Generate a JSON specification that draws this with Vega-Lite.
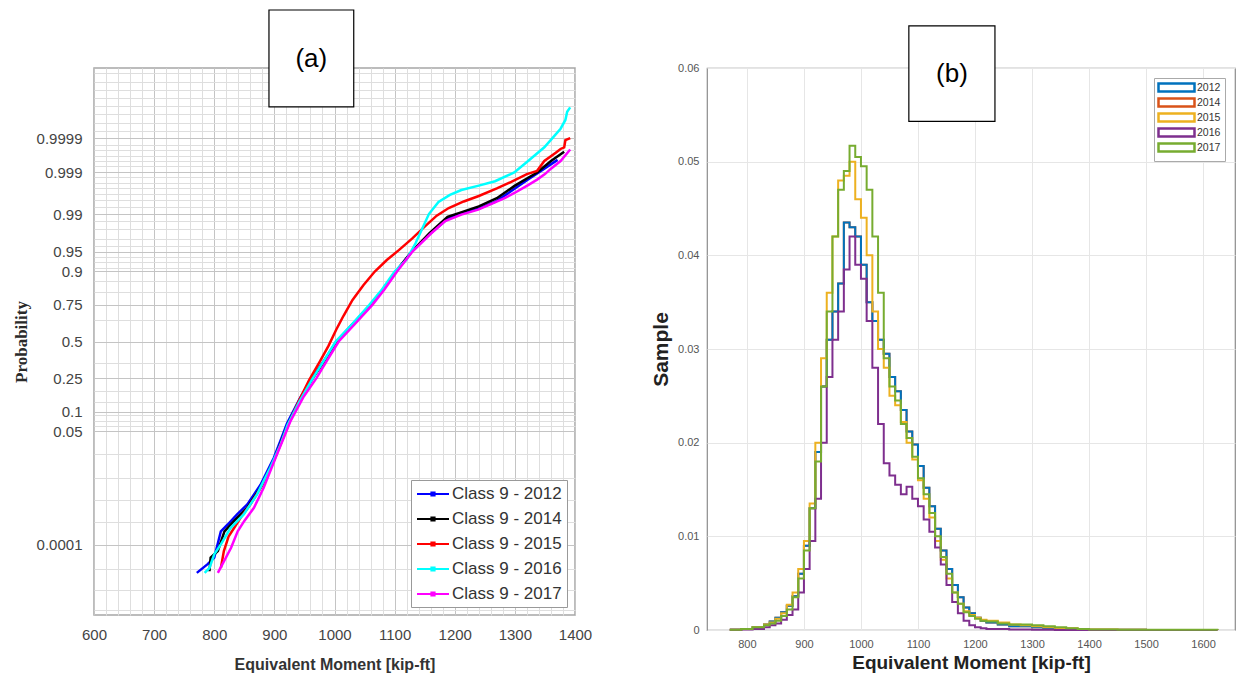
{
  "$schema": "https://vega.github.io/schema/vega-lite/v6.json",
  "background": "white",
  "padding": {"left": 11, "top": 8, "right": 5, "bottom": 0},
  "autosize": {"type": "pad"},
  "bounds": "flush",
  "spacing": 132,
  "config": {"font": "Liberation Sans"},
  "resolve": {"scale": {"color": "independent", "x": "independent", "y": "independent"}, "legend": {"color": "independent"}},
  "hconcat": [
    {
      "width": 481,
      "height": 547,
      "view": {"stroke": "#a6a6a6", "strokeWidth": 1.5},
      "data": {"values": [
        {"s":"Class 9 - 2012","m":771,"z":-4.23},{"s":"Class 9 - 2012","m":789,"z":-4.07},{"s":"Class 9 - 2012","m":800,"z":-3.95},{"s":"Class 9 - 2012","m":811,"z":-3.47},{"s":"Class 9 - 2012","m":822,"z":-3.35},{"s":"Class 9 - 2012","m":838,"z":-3.16},{"s":"Class 9 - 2012","m":855,"z":-2.98},{"s":"Class 9 - 2012","m":877,"z":-2.62},{"s":"Class 9 - 2012","m":899,"z":-2.13},{"s":"Class 9 - 2012","m":910,"z":-1.82},{"s":"Class 9 - 2012","m":921,"z":-1.5},{"s":"Class 9 - 2012","m":942,"z":-1.05},{"s":"Class 9 - 2012","m":962,"z":-0.67},{"s":"Class 9 - 2012","m":982,"z":-0.36},{"s":"Class 9 - 2012","m":1003,"z":0},{"s":"Class 9 - 2012","m":1030,"z":0.32},{"s":"Class 9 - 2012","m":1060,"z":0.67},{"s":"Class 9 - 2012","m":1080,"z":0.95},{"s":"Class 9 - 2012","m":1102,"z":1.28},{"s":"Class 9 - 2012","m":1129,"z":1.65},{"s":"Class 9 - 2012","m":1160,"z":1.98},{"s":"Class 9 - 2012","m":1190,"z":2.26},{"s":"Class 9 - 2012","m":1215,"z":2.35},{"s":"Class 9 - 2012","m":1240,"z":2.43},{"s":"Class 9 - 2012","m":1267,"z":2.55},{"s":"Class 9 - 2012","m":1294,"z":2.75},{"s":"Class 9 - 2012","m":1320,"z":2.95},{"s":"Class 9 - 2012","m":1349,"z":3.16},{"s":"Class 9 - 2012","m":1371,"z":3.32},
        {"s":"Class 9 - 2014","m":792,"z":-4.2},{"s":"Class 9 - 2014","m":794,"z":-3.95},{"s":"Class 9 - 2014","m":806,"z":-3.83},{"s":"Class 9 - 2014","m":817,"z":-3.47},{"s":"Class 9 - 2014","m":833,"z":-3.28},{"s":"Class 9 - 2014","m":855,"z":-3.04},{"s":"Class 9 - 2014","m":880,"z":-2.62},{"s":"Class 9 - 2014","m":900,"z":-2.15},{"s":"Class 9 - 2014","m":912,"z":-1.82},{"s":"Class 9 - 2014","m":923,"z":-1.5},{"s":"Class 9 - 2014","m":944,"z":-1.05},{"s":"Class 9 - 2014","m":964,"z":-0.67},{"s":"Class 9 - 2014","m":983,"z":-0.36},{"s":"Class 9 - 2014","m":1004,"z":0},{"s":"Class 9 - 2014","m":1031,"z":0.32},{"s":"Class 9 - 2014","m":1061,"z":0.67},{"s":"Class 9 - 2014","m":1081,"z":0.95},{"s":"Class 9 - 2014","m":1102,"z":1.28},{"s":"Class 9 - 2014","m":1129,"z":1.65},{"s":"Class 9 - 2014","m":1158,"z":1.98},{"s":"Class 9 - 2014","m":1188,"z":2.28},{"s":"Class 9 - 2014","m":1213,"z":2.37},{"s":"Class 9 - 2014","m":1240,"z":2.47},{"s":"Class 9 - 2014","m":1270,"z":2.62},{"s":"Class 9 - 2014","m":1300,"z":2.85},{"s":"Class 9 - 2014","m":1320,"z":2.98},{"s":"Class 9 - 2014","m":1337,"z":3.09},{"s":"Class 9 - 2014","m":1360,"z":3.3},{"s":"Class 9 - 2014","m":1382,"z":3.47},
        {"s":"Class 9 - 2015","m":811,"z":-4.14},{"s":"Class 9 - 2015","m":816,"z":-3.83},{"s":"Class 9 - 2015","m":824,"z":-3.56},{"s":"Class 9 - 2015","m":833,"z":-3.41},{"s":"Class 9 - 2015","m":844,"z":-3.22},{"s":"Class 9 - 2015","m":860,"z":-2.98},{"s":"Class 9 - 2015","m":877,"z":-2.68},{"s":"Class 9 - 2015","m":899,"z":-2.19},{"s":"Class 9 - 2015","m":910,"z":-1.89},{"s":"Class 9 - 2015","m":924,"z":-1.5},{"s":"Class 9 - 2015","m":940,"z":-1.1},{"s":"Class 9 - 2015","m":958,"z":-0.7},{"s":"Class 9 - 2015","m":976,"z":-0.36},{"s":"Class 9 - 2015","m":990,"z":-0.08},{"s":"Class 9 - 2015","m":1003,"z":0.22},{"s":"Class 9 - 2015","m":1015,"z":0.47},{"s":"Class 9 - 2015","m":1030,"z":0.76},{"s":"Class 9 - 2015","m":1048,"z":1.03},{"s":"Class 9 - 2015","m":1067,"z":1.28},{"s":"Class 9 - 2015","m":1087,"z":1.49},{"s":"Class 9 - 2015","m":1107,"z":1.67},{"s":"Class 9 - 2015","m":1129,"z":1.88},{"s":"Class 9 - 2015","m":1150,"z":2.1},{"s":"Class 9 - 2015","m":1170,"z":2.3},{"s":"Class 9 - 2015","m":1190,"z":2.44},{"s":"Class 9 - 2015","m":1215,"z":2.56},{"s":"Class 9 - 2015","m":1240,"z":2.66},{"s":"Class 9 - 2015","m":1270,"z":2.8},{"s":"Class 9 - 2015","m":1294,"z":2.92},{"s":"Class 9 - 2015","m":1320,"z":3.06},{"s":"Class 9 - 2015","m":1337,"z":3.12},{"s":"Class 9 - 2015","m":1349,"z":3.3},{"s":"Class 9 - 2015","m":1368,"z":3.45},{"s":"Class 9 - 2015","m":1376,"z":3.52},{"s":"Class 9 - 2015","m":1382,"z":3.55},{"s":"Class 9 - 2015","m":1384,"z":3.68},{"s":"Class 9 - 2015","m":1392,"z":3.72},
        {"s":"Class 9 - 2016","m":784,"z":-4.23},{"s":"Class 9 - 2016","m":792,"z":-4.14},{"s":"Class 9 - 2016","m":800,"z":-3.89},{"s":"Class 9 - 2016","m":811,"z":-3.71},{"s":"Class 9 - 2016","m":827,"z":-3.41},{"s":"Class 9 - 2016","m":849,"z":-3.16},{"s":"Class 9 - 2016","m":871,"z":-2.8},{"s":"Class 9 - 2016","m":893,"z":-2.31},{"s":"Class 9 - 2016","m":910,"z":-1.89},{"s":"Class 9 - 2016","m":922,"z":-1.52},{"s":"Class 9 - 2016","m":943,"z":-1.07},{"s":"Class 9 - 2016","m":964,"z":-0.67},{"s":"Class 9 - 2016","m":982,"z":-0.36},{"s":"Class 9 - 2016","m":1002,"z":0},{"s":"Class 9 - 2016","m":1028,"z":0.3},{"s":"Class 9 - 2016","m":1058,"z":0.67},{"s":"Class 9 - 2016","m":1079,"z":0.95},{"s":"Class 9 - 2016","m":1100,"z":1.28},{"s":"Class 9 - 2016","m":1120,"z":1.5},{"s":"Class 9 - 2016","m":1135,"z":1.8},{"s":"Class 9 - 2016","m":1157,"z":2.33},{"s":"Class 9 - 2016","m":1173,"z":2.55},{"s":"Class 9 - 2016","m":1192,"z":2.68},{"s":"Class 9 - 2016","m":1211,"z":2.77},{"s":"Class 9 - 2016","m":1240,"z":2.85},{"s":"Class 9 - 2016","m":1267,"z":2.93},{"s":"Class 9 - 2016","m":1299,"z":3.09},{"s":"Class 9 - 2016","m":1322,"z":3.3},{"s":"Class 9 - 2016","m":1349,"z":3.55},{"s":"Class 9 - 2016","m":1365,"z":3.75},{"s":"Class 9 - 2016","m":1376,"z":3.89},{"s":"Class 9 - 2016","m":1384,"z":4.05},{"s":"Class 9 - 2016","m":1387,"z":4.2},{"s":"Class 9 - 2016","m":1392,"z":4.28},
        {"s":"Class 9 - 2017","m":806,"z":-4.23},{"s":"Class 9 - 2017","m":828,"z":-3.77},{"s":"Class 9 - 2017","m":839,"z":-3.47},{"s":"Class 9 - 2017","m":850,"z":-3.28},{"s":"Class 9 - 2017","m":866,"z":-3.04},{"s":"Class 9 - 2017","m":882,"z":-2.68},{"s":"Class 9 - 2017","m":904,"z":-2.07},{"s":"Class 9 - 2017","m":916,"z":-1.75},{"s":"Class 9 - 2017","m":927,"z":-1.45},{"s":"Class 9 - 2017","m":948,"z":-1.02},{"s":"Class 9 - 2017","m":970,"z":-0.67},{"s":"Class 9 - 2017","m":987,"z":-0.36},{"s":"Class 9 - 2017","m":1007,"z":0},{"s":"Class 9 - 2017","m":1034,"z":0.32},{"s":"Class 9 - 2017","m":1063,"z":0.67},{"s":"Class 9 - 2017","m":1083,"z":0.95},{"s":"Class 9 - 2017","m":1104,"z":1.28},{"s":"Class 9 - 2017","m":1130,"z":1.65},{"s":"Class 9 - 2017","m":1160,"z":1.97},{"s":"Class 9 - 2017","m":1184,"z":2.2},{"s":"Class 9 - 2017","m":1211,"z":2.32},{"s":"Class 9 - 2017","m":1239,"z":2.41},{"s":"Class 9 - 2017","m":1262,"z":2.52},{"s":"Class 9 - 2017","m":1283,"z":2.62},{"s":"Class 9 - 2017","m":1300,"z":2.72},{"s":"Class 9 - 2017","m":1322,"z":2.86},{"s":"Class 9 - 2017","m":1337,"z":2.96},{"s":"Class 9 - 2017","m":1350,"z":3.06},{"s":"Class 9 - 2017","m":1360,"z":3.16},{"s":"Class 9 - 2017","m":1376,"z":3.3},{"s":"Class 9 - 2017","m":1392,"z":3.51}
      ]},
      "encoding": {
        "x": {"field": "m", "type": "quantitative",
          "scale": {"domain": [600, 1400], "nice": false, "zero": false},
          "axis": {"values": [600,620,640,660,680,700,720,740,760,780,800,820,840,860,880,900,920,940,960,980,1000,1020,1040,1060,1080,1100,1120,1140,1160,1180,1200,1220,1240,1260,1280,1300,1320,1340,1360,1380,1400],
            "format": "d",
            "labelExpr": "datum.value % 100 === 0 ? datum.label : ''",
            "labelFlush": false, "labelOverlap": false, "ticks": false, "domain": false,
            "gridColor": {"condition": {"test": "datum.value % 100 === 0", "value": "#c4c4c4"}, "value": "#dedede"},
            "labelFontSize": 15, "labelColor": "#444", "labelPadding": 12,
            "title": "Equivalent Moment [kip-ft]", "titleFontSize": 16, "titleFontWeight": "bold", "titleColor": "#333", "titlePadding": 14}},
        "y": {"field": "z", "type": "quantitative",
          "scale": {"domain": [-5, 5], "nice": false, "zero": false},
          "axis": {"values": [-4.9,-4.55,-4.15,-3.719,-3.3,-2.9,-2.5,-2.05,-1.6449,-1.55,-1.45,-1.35,-1.2816,-1.1,-0.9,-0.6745,-0.4,0,0.4,0.6745,0.9,1.1,1.2816,1.35,1.45,1.55,1.6449,1.75,1.88,2.05,2.2,2.3263,2.45,2.58,2.7,2.8,2.9,3.0,3.0902,3.2,3.3,3.4,3.5,3.6,3.719,3.85,4.0,4.15,4.3,4.45,4.6,4.75,4.9],
            "labelExpr": "datum.value == -3.719 ? '0.0001' : datum.value == -1.6449 ? '0.05' : datum.value == -1.2816 ? '0.1' : datum.value == -0.6745 ? '0.25' : datum.value == 0 ? '0.5' : datum.value == 0.6745 ? '0.75' : datum.value == 1.2816 ? '0.9' : datum.value == 1.6449 ? '0.95' : datum.value == 2.3263 ? '0.99' : datum.value == 3.0902 ? '0.999' : datum.value == 3.719 ? '0.9999' : ''",
            "gridColor": {"condition": {"test": "datum.value == -3.719 || datum.value == -1.6449 || datum.value == -1.2816 || datum.value == -0.6745 || datum.value == 0 || datum.value == 0.6745 || datum.value == 1.2816 || datum.value == 1.6449 || datum.value == 2.3263 || datum.value == 3.0902 || datum.value == 3.719", "value": "#c4c4c4"}, "value": "#dedede"},
            "labelOverlap": false, "labelBound": false, "ticks": false, "domain": false,
            "labelFontSize": 15, "labelColor": "#444", "labelPadding": 12,
            "title": "Probability", "titleFont": "Liberation Serif", "titleFontSize": 17, "titleFontWeight": "bold", "titleColor": "#2a2a2a", "titlePadding": 6}}
      },
      "layer": [
        {
          "mark": {"type": "line", "strokeWidth": 2.5},
          "encoding": {
            "color": {"field": "s", "type": "nominal",
              "scale": {"domain": ["Class 9 - 2012","Class 9 - 2014","Class 9 - 2015","Class 9 - 2016","Class 9 - 2017"], "range": ["#0000ff","#000000","#ff0000","#00ffff","#ff00ff"]},
              "legend": {"orient": "bottom-right", "offset": 8, "title": null,
                "symbolType": "M-2,0H2M-0.2,-0.2H0.2V0.2H-0.2Z", "symbolSize": 256, "symbolStrokeWidth": 2, "symbolOffset": 8,
                "labelFontSize": 17, "labelColor": "#333", "labelOffset": 10,
                "strokeColor": "#999", "fillColor": "white", "padding": 5, "rowPadding": 8}}
          }
        },
        {
          "data": {"values": [{"m": 891, "m2": 1032, "z": 4.29, "z2": 6.06}]},
          "mark": {"type": "rect", "fill": "white", "stroke": "black", "strokeWidth": 1.2},
          "encoding": {
            "x2": {"field": "m2"},
            "y2": {"field": "z2"}
          }
        },
        {
          "data": {"values": [{"m": 961.5, "z": 5.17, "t": "(a)"}]},
          "mark": {"type": "text", "fontSize": 26, "font": "Liberation Sans", "color": "black", "baseline": "middle"},
          "encoding": {
            "text": {"field": "t"}
          }
        }
      ]
    },
    {
      "width": 528,
      "height": 562,
      "view": {"stroke": "#8c8c8c", "strokeWidth": 1.2},
      "data": {"values": [
        {"s":"2014","x":770,"y":0.00003},{"s":"2014","x":790,"y":0.0001},{"s":"2014","x":810,"y":0.0003},{"s":"2014","x":830,"y":0.0006},{"s":"2014","x":840,"y":0.0009},{"s":"2014","x":850,"y":0.0013},{"s":"2014","x":860,"y":0.0019},{"s":"2014","x":870,"y":0.0026},{"s":"2014","x":880,"y":0.0036},{"s":"2014","x":890,"y":0.006},{"s":"2014","x":900,"y":0.009},{"s":"2014","x":910,"y":0.013},{"s":"2014","x":920,"y":0.019},{"s":"2014","x":930,"y":0.026},{"s":"2014","x":940,"y":0.031},{"s":"2014","x":950,"y":0.034},{"s":"2014","x":960,"y":0.037},{"s":"2014","x":970,"y":0.0435},{"s":"2014","x":980,"y":0.043},{"s":"2014","x":990,"y":0.042},{"s":"2014","x":1000,"y":0.039},{"s":"2014","x":1010,"y":0.035},{"s":"2014","x":1020,"y":0.033},{"s":"2014","x":1030,"y":0.031},{"s":"2014","x":1040,"y":0.0295},{"s":"2014","x":1050,"y":0.027},{"s":"2014","x":1060,"y":0.0255},{"s":"2014","x":1070,"y":0.0235},{"s":"2014","x":1080,"y":0.0212},{"s":"2014","x":1090,"y":0.0198},{"s":"2014","x":1100,"y":0.0175},{"s":"2014","x":1110,"y":0.0152},{"s":"2014","x":1120,"y":0.0132},{"s":"2014","x":1130,"y":0.0108},{"s":"2014","x":1140,"y":0.0085},{"s":"2014","x":1150,"y":0.0065},{"s":"2014","x":1160,"y":0.0048},{"s":"2014","x":1170,"y":0.0035},{"s":"2014","x":1180,"y":0.0024},{"s":"2014","x":1190,"y":0.0018},{"s":"2014","x":1200,"y":0.0013},{"s":"2014","x":1210,"y":0.001},{"s":"2014","x":1220,"y":0.0008},{"s":"2014","x":1240,"y":0.0006},{"s":"2014","x":1260,"y":0.0004},{"s":"2014","x":1280,"y":0.0004},{"s":"2014","x":1300,"y":0.0003},{"s":"2014","x":1320,"y":0.0002},{"s":"2014","x":1340,"y":0.0001},{"s":"2014","x":1360,"y":0.0001},{"s":"2014","x":1380,"y":0.00005},{"s":"2014","x":1400,"y":0.00003},{"s":"2014","x":1450,"y":0.00002},{"s":"2014","x":1500,"y":0.00001},{"s":"2014","x":1625,"y":0},
        {"s":"2012","x":770,"y":0.00003},{"s":"2012","x":790,"y":0.0001},{"s":"2012","x":810,"y":0.0003},{"s":"2012","x":830,"y":0.0006},{"s":"2012","x":840,"y":0.0009},{"s":"2012","x":850,"y":0.0013},{"s":"2012","x":860,"y":0.0019},{"s":"2012","x":870,"y":0.0026},{"s":"2012","x":880,"y":0.0036},{"s":"2012","x":890,"y":0.006},{"s":"2012","x":900,"y":0.009},{"s":"2012","x":910,"y":0.013},{"s":"2012","x":920,"y":0.019},{"s":"2012","x":930,"y":0.026},{"s":"2012","x":940,"y":0.031},{"s":"2012","x":950,"y":0.034},{"s":"2012","x":960,"y":0.037},{"s":"2012","x":970,"y":0.0435},{"s":"2012","x":980,"y":0.043},{"s":"2012","x":990,"y":0.042},{"s":"2012","x":1000,"y":0.039},{"s":"2012","x":1010,"y":0.035},{"s":"2012","x":1020,"y":0.033},{"s":"2012","x":1030,"y":0.031},{"s":"2012","x":1040,"y":0.0295},{"s":"2012","x":1050,"y":0.027},{"s":"2012","x":1060,"y":0.0255},{"s":"2012","x":1070,"y":0.0235},{"s":"2012","x":1080,"y":0.0212},{"s":"2012","x":1090,"y":0.0198},{"s":"2012","x":1100,"y":0.0175},{"s":"2012","x":1110,"y":0.0152},{"s":"2012","x":1120,"y":0.0132},{"s":"2012","x":1130,"y":0.0108},{"s":"2012","x":1140,"y":0.0085},{"s":"2012","x":1150,"y":0.0065},{"s":"2012","x":1160,"y":0.0048},{"s":"2012","x":1170,"y":0.0035},{"s":"2012","x":1180,"y":0.0024},{"s":"2012","x":1190,"y":0.0018},{"s":"2012","x":1200,"y":0.0013},{"s":"2012","x":1210,"y":0.001},{"s":"2012","x":1220,"y":0.0008},{"s":"2012","x":1240,"y":0.0006},{"s":"2012","x":1260,"y":0.0004},{"s":"2012","x":1280,"y":0.0004},{"s":"2012","x":1300,"y":0.0003},{"s":"2012","x":1320,"y":0.0002},{"s":"2012","x":1340,"y":0.0001},{"s":"2012","x":1360,"y":0.0001},{"s":"2012","x":1380,"y":0.00005},{"s":"2012","x":1400,"y":0.00003},{"s":"2012","x":1450,"y":0.00002},{"s":"2012","x":1500,"y":0.00001},{"s":"2012","x":1625,"y":0},
        {"s":"2015","x":770,"y":0.00003},{"s":"2015","x":790,"y":0.0001},{"s":"2015","x":810,"y":0.0003},{"s":"2015","x":830,"y":0.0006},{"s":"2015","x":840,"y":0.0008},{"s":"2015","x":850,"y":0.0012},{"s":"2015","x":860,"y":0.0018},{"s":"2015","x":870,"y":0.0027},{"s":"2015","x":880,"y":0.004},{"s":"2015","x":890,"y":0.0065},{"s":"2015","x":900,"y":0.0095},{"s":"2015","x":910,"y":0.0135},{"s":"2015","x":920,"y":0.02},{"s":"2015","x":930,"y":0.029},{"s":"2015","x":940,"y":0.036},{"s":"2015","x":950,"y":0.042},{"s":"2015","x":960,"y":0.048},{"s":"2015","x":970,"y":0.0485},{"s":"2015","x":980,"y":0.05},{"s":"2015","x":990,"y":0.046},{"s":"2015","x":1000,"y":0.044},{"s":"2015","x":1010,"y":0.04},{"s":"2015","x":1020,"y":0.034},{"s":"2015","x":1030,"y":0.03},{"s":"2015","x":1040,"y":0.028},{"s":"2015","x":1050,"y":0.025},{"s":"2015","x":1060,"y":0.024},{"s":"2015","x":1070,"y":0.0222},{"s":"2015","x":1080,"y":0.02},{"s":"2015","x":1090,"y":0.0182},{"s":"2015","x":1100,"y":0.016},{"s":"2015","x":1110,"y":0.014},{"s":"2015","x":1120,"y":0.012},{"s":"2015","x":1130,"y":0.0095},{"s":"2015","x":1140,"y":0.0075},{"s":"2015","x":1150,"y":0.0055},{"s":"2015","x":1160,"y":0.004},{"s":"2015","x":1170,"y":0.0028},{"s":"2015","x":1180,"y":0.002},{"s":"2015","x":1190,"y":0.0016},{"s":"2015","x":1200,"y":0.0013},{"s":"2015","x":1210,"y":0.0011},{"s":"2015","x":1220,"y":0.001},{"s":"2015","x":1240,"y":0.0008},{"s":"2015","x":1260,"y":0.0006},{"s":"2015","x":1280,"y":0.0005},{"s":"2015","x":1300,"y":0.0004},{"s":"2015","x":1320,"y":0.0003},{"s":"2015","x":1340,"y":0.0002},{"s":"2015","x":1360,"y":0.0002},{"s":"2015","x":1380,"y":0.0001},{"s":"2015","x":1400,"y":0.00005},{"s":"2015","x":1450,"y":0.00002},{"s":"2015","x":1500,"y":0.00001},{"s":"2015","x":1625,"y":0},
        {"s":"2016","x":770,"y":0.00002},{"s":"2016","x":790,"y":0.00005},{"s":"2016","x":810,"y":0.0001},{"s":"2016","x":830,"y":0.0003},{"s":"2016","x":840,"y":0.0005},{"s":"2016","x":850,"y":0.0007},{"s":"2016","x":860,"y":0.0011},{"s":"2016","x":870,"y":0.0016},{"s":"2016","x":880,"y":0.0022},{"s":"2016","x":890,"y":0.004},{"s":"2016","x":900,"y":0.0065},{"s":"2016","x":910,"y":0.0095},{"s":"2016","x":920,"y":0.014},{"s":"2016","x":930,"y":0.02},{"s":"2016","x":940,"y":0.027},{"s":"2016","x":950,"y":0.031},{"s":"2016","x":960,"y":0.034},{"s":"2016","x":970,"y":0.0385},{"s":"2016","x":980,"y":0.042},{"s":"2016","x":990,"y":0.039},{"s":"2016","x":1000,"y":0.0375},{"s":"2016","x":1010,"y":0.033},{"s":"2016","x":1020,"y":0.028},{"s":"2016","x":1030,"y":0.022},{"s":"2016","x":1040,"y":0.0178},{"s":"2016","x":1050,"y":0.0165},{"s":"2016","x":1060,"y":0.0155},{"s":"2016","x":1070,"y":0.0145},{"s":"2016","x":1080,"y":0.0153},{"s":"2016","x":1090,"y":0.014},{"s":"2016","x":1100,"y":0.0132},{"s":"2016","x":1110,"y":0.0118},{"s":"2016","x":1120,"y":0.0105},{"s":"2016","x":1130,"y":0.0088},{"s":"2016","x":1140,"y":0.007},{"s":"2016","x":1150,"y":0.0048},{"s":"2016","x":1160,"y":0.003},{"s":"2016","x":1170,"y":0.0018},{"s":"2016","x":1180,"y":0.001},{"s":"2016","x":1190,"y":0.0005},{"s":"2016","x":1200,"y":0.0003},{"s":"2016","x":1210,"y":0.0002},{"s":"2016","x":1220,"y":0.0001},{"s":"2016","x":1240,"y":0.0001},{"s":"2016","x":1260,"y":0.00005},{"s":"2016","x":1280,"y":0.00005},{"s":"2016","x":1300,"y":0.00003},{"s":"2016","x":1320,"y":0.00002},{"s":"2016","x":1340,"y":0.00001},{"s":"2016","x":1360,"y":0},{"s":"2016","x":1380,"y":0},{"s":"2016","x":1400,"y":0},{"s":"2016","x":1450,"y":0},{"s":"2016","x":1500,"y":0},{"s":"2016","x":1625,"y":0},
        {"s":"2017","x":770,"y":0.00002},{"s":"2017","x":790,"y":0.0001},{"s":"2017","x":810,"y":0.0003},{"s":"2017","x":830,"y":0.0005},{"s":"2017","x":840,"y":0.0007},{"s":"2017","x":850,"y":0.001},{"s":"2017","x":860,"y":0.0015},{"s":"2017","x":870,"y":0.0022},{"s":"2017","x":880,"y":0.0035},{"s":"2017","x":890,"y":0.0055},{"s":"2017","x":900,"y":0.0085},{"s":"2017","x":910,"y":0.013},{"s":"2017","x":920,"y":0.018},{"s":"2017","x":930,"y":0.026},{"s":"2017","x":940,"y":0.034},{"s":"2017","x":950,"y":0.042},{"s":"2017","x":960,"y":0.047},{"s":"2017","x":970,"y":0.049},{"s":"2017","x":980,"y":0.0517},{"s":"2017","x":990,"y":0.0505},{"s":"2017","x":1000,"y":0.0495},{"s":"2017","x":1010,"y":0.047},{"s":"2017","x":1020,"y":0.042},{"s":"2017","x":1030,"y":0.036},{"s":"2017","x":1040,"y":0.029},{"s":"2017","x":1050,"y":0.026},{"s":"2017","x":1060,"y":0.0245},{"s":"2017","x":1070,"y":0.022},{"s":"2017","x":1080,"y":0.0205},{"s":"2017","x":1090,"y":0.0185},{"s":"2017","x":1100,"y":0.0162},{"s":"2017","x":1110,"y":0.0145},{"s":"2017","x":1120,"y":0.0125},{"s":"2017","x":1130,"y":0.01},{"s":"2017","x":1140,"y":0.0078},{"s":"2017","x":1150,"y":0.006},{"s":"2017","x":1160,"y":0.004},{"s":"2017","x":1170,"y":0.0028},{"s":"2017","x":1180,"y":0.0019},{"s":"2017","x":1190,"y":0.0015},{"s":"2017","x":1200,"y":0.0012},{"s":"2017","x":1210,"y":0.001},{"s":"2017","x":1220,"y":0.0009},{"s":"2017","x":1240,"y":0.0007},{"s":"2017","x":1260,"y":0.0006},{"s":"2017","x":1280,"y":0.0006},{"s":"2017","x":1300,"y":0.0005},{"s":"2017","x":1320,"y":0.0004},{"s":"2017","x":1340,"y":0.0003},{"s":"2017","x":1360,"y":0.0002},{"s":"2017","x":1380,"y":0.0001},{"s":"2017","x":1400,"y":0.00005},{"s":"2017","x":1450,"y":0.00003},{"s":"2017","x":1500,"y":0.00002},{"s":"2017","x":1625,"y":0}
      ]},
      "encoding": {
        "x": {"field": "x", "type": "quantitative",
          "scale": {"domain": [730, 1656], "nice": false, "zero": false},
          "axis": {"values": [800,900,1000,1100,1200,1300,1400,1500,1600], "format": "d", "labelFlush": false,
            "ticks": false, "domain": false, "gridColor": "#e6e6e6",
            "labelFontSize": 11, "labelColor": "#555", "labelPadding": 8,
            "title": "Equivalent Moment [kip-ft]", "titleFontSize": 19, "titleFontWeight": "bold", "titleColor": "#222", "titlePadding": 4}},
        "y": {"field": "y", "type": "quantitative",
          "scale": {"domain": [0, 0.06], "nice": false, "zero": false},
          "axis": {"values": [0,0.01,0.02,0.03,0.04,0.05,0.06], "format": ".2~f",
            "ticks": false, "domain": false, "gridColor": "#e6e6e6",
            "labelFontSize": 11, "labelColor": "#555", "labelPadding": 8,
            "title": "Sample", "titleFontSize": 21, "titleFontWeight": "bold", "titleColor": "#222", "titlePadding": 6}}
      },
      "layer": [
        {
          "transform": [{"filter": "datum.s === '2014'"}],
          "mark": {"type": "line", "interpolate": "step-after", "strokeWidth": 2},
          "encoding": {
            "color": {"field": "s", "type": "nominal",
              "scale": {"domain": ["2012","2014","2015","2016","2017"], "range": ["#0072BD","#D95319","#EDB120","#7E2F8E","#77AC30"]},
              "legend": {"orient": "top-right", "offset": 10, "title": null,
                "symbolType": "M-4.5,-1H4.5V1H-4.5Z", "symbolSize": 64, "symbolStrokeWidth": 2.5, "symbolOffset": 13,
                "labelFontSize": 10.5, "labelColor": "#333", "labelOffset": 15,
                "strokeColor": "#aaaaaa", "fillColor": "white", "padding": 4, "rowPadding": -6}}
          }
        },
        {
          "transform": [{"filter": "datum.s !== '2014'"}],
          "mark": {"type": "line", "interpolate": "step-after", "strokeWidth": 2},
          "encoding": {
            "color": {"field": "s", "type": "nominal"}
          }
        },
        {
          "data": {"values": [{"x": 1084, "x2": 1235, "y": 0.0543, "y2": 0.0645}]},
          "mark": {"type": "rect", "fill": "white", "stroke": "black", "strokeWidth": 1.2},
          "encoding": {
            "x2": {"field": "x2"},
            "y2": {"field": "y2"}
          }
        },
        {
          "data": {"values": [{"x": 1159.5, "y": 0.0594, "t": "(b)"}]},
          "mark": {"type": "text", "fontSize": 26, "font": "Liberation Sans", "color": "black", "baseline": "middle"},
          "encoding": {
            "text": {"field": "t"}
          }
        }
      ]
    }
  ]
}
